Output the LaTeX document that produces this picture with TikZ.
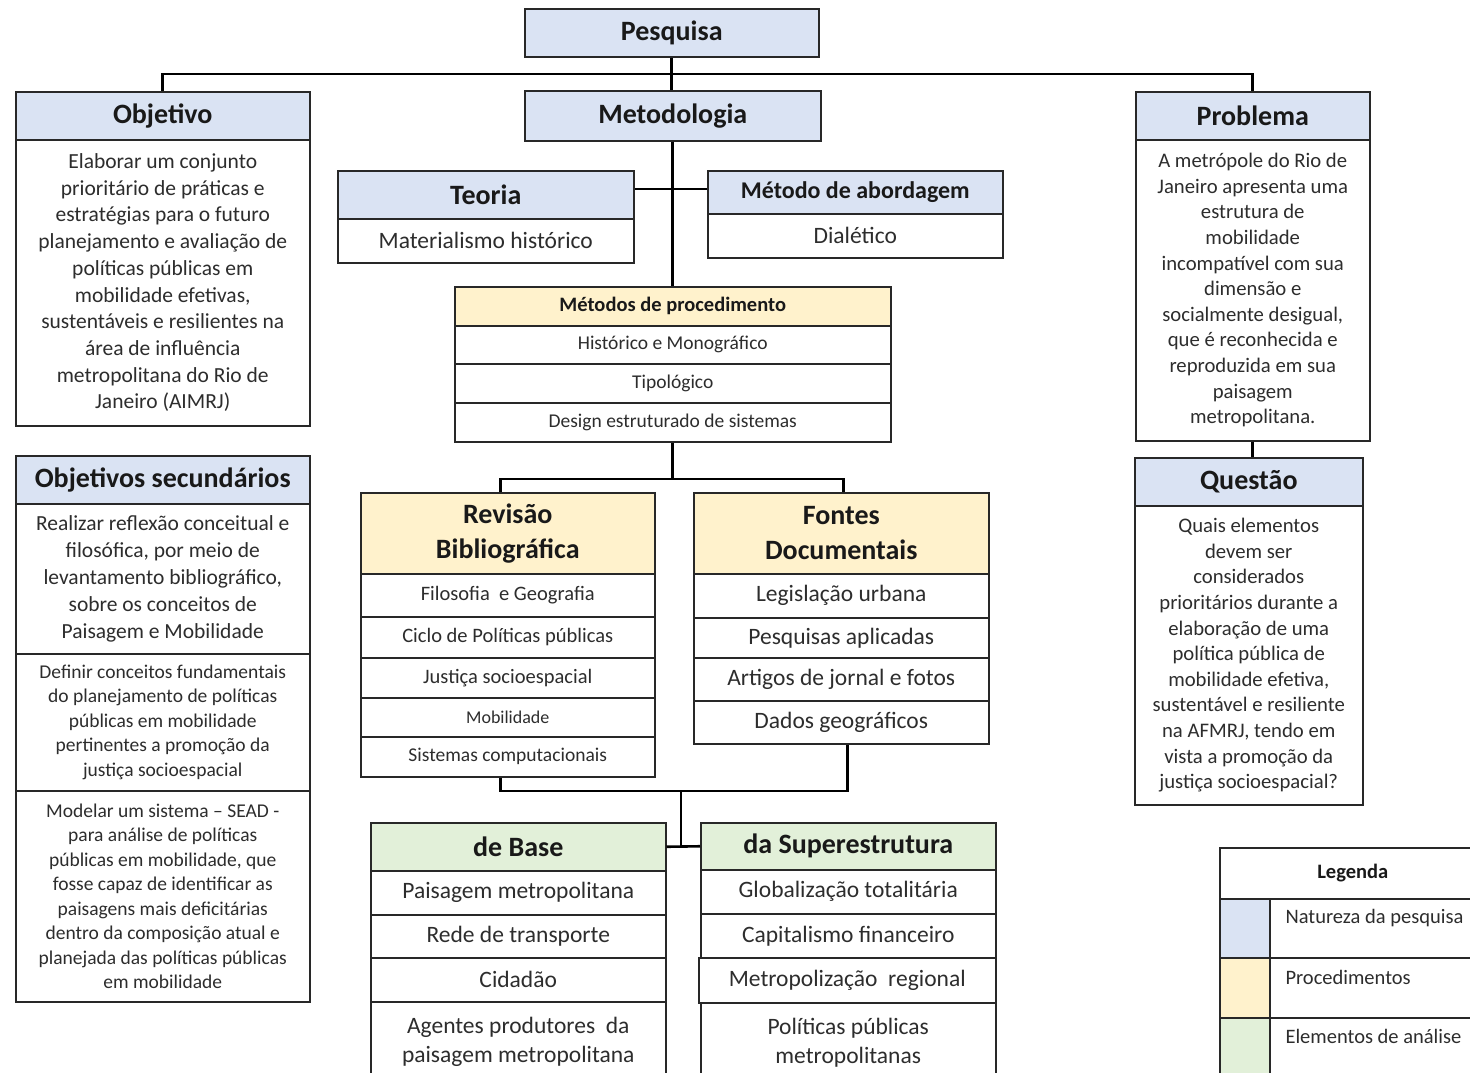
\documentclass[tikz,border=0pt]{standalone}
\usepackage{fontspec}
\setmainfont{Carlito}
\usetikzlibrary{calc}

\definecolor{blueF}{RGB}{218,227,243}
\definecolor{yellowF}{RGB}{255,242,204}
\definecolor{greenF}{RGB}{226,240,217}
\definecolor{edge}{RGB}{40,40,40}
\definecolor{ink}{RGB}{25,25,25}
\definecolor{body}{RGB}{45,45,45}

\tikzset{
  cell/.style={draw=edge, line width=1.5pt, anchor=north west, align=center,
               inner sep=1pt, text=body},
  wh/.style 2 args={minimum width=#1pt, minimum height=#2pt},
  natureza/.style={cell, fill=blueF, text=ink},
  proced/.style={cell, fill=yellowF, text=ink},
  analise/.style={cell, fill=greenF, text=ink},
  plain/.style={cell, fill=white},
  conn/.style={line width=2.6pt, draw=black},
  fTitle/.style={font=\fontsize{28}{35}\selectfont\bfseries},
  fMid/.style={font=\fontsize{24}{29}\selectfont\bfseries},
  fSmallB/.style={font=\fontsize{20.5}{25}\selectfont\bfseries},
  fBody/.style={font=\fontsize{21.5}{26.7}\selectfont},
  fSide/.style={font=\fontsize{20.7}{25.6}\selectfont},
  fSec/.style={font=\fontsize{19.5}{24.5}\selectfont},
  fItem/.style={font=\fontsize{23.5}{29}\selectfont},
  fRow/.style={font=\fontsize{19.5}{24}\selectfont},
  fRev/.style={font=\fontsize{20.5}{25}\selectfont},
  fLeg/.style={font=\fontsize{20.5}{24}\selectfont},
}

\begin{document}
\begin{tikzpicture}[x=1pt, y=-1pt]
\useasboundingbox (0,0) rectangle (1470,1072);
\fill[white] (0,0) rectangle (1470,1072);
\clip (0,0) rectangle (1470,1072);

% ---------- top level ----------
\node[natureza, fTitle, wh={294}{48}] (pesq) at (524,8) {Pesquisa};
\node[natureza, fTitle, wh={296}{50}] (met) at (524,90) {Metodologia};

% ---------- objective ----------
\node[natureza, fTitle, wh={294}{48}] (obj) at (15,91) {Objetivo};
\node[plain, fBody, wh={294}{286}] (objB) at (15,139)
  {Elaborar um conjunto\\prioritário de práticas e\\estratégias para o futuro\\planejamento e avaliação de\\políticas públicas em\\mobilidade efetivas,\\sustentáveis e resilientes na\\área de influência\\metropolitana do Rio de\\Janeiro (AIMRJ)};

% ---------- secondary objectives ----------
\node[natureza, fTitle, wh={294}{48}] (sec) at (15,455) {Objetivos secundários};
\node[plain, fBody, font=\fontsize{21.5}{27}\selectfont, wh={294}{150}] (sec1) at (15,503)
  {Realizar reflexão conceitual e\\filosófica, por meio de\\levantamento bibliográfico,\\sobre os conceitos de\\Paisagem e Mobilidade};
\node[plain, fSec, wh={294}{137}] (sec2) at (15,653)
  {Definir conceitos fundamentais\\do planejamento de políticas\\públicas em mobilidade\\pertinentes a promoção da\\justiça socioespacial};
\node[plain, fSec, wh={294}{211}] (sec3) at (15,790)
  {Modelar um sistema – SEAD -\\para análise de políticas\\públicas em mobilidade, que\\fosse capaz de identificar as\\paisagens mais deficitárias\\dentro da composição atual e\\planejada das políticas públicas\\em mobilidade};

% ---------- problem and question ----------
\node[natureza, fTitle, wh={234}{48}] (prob) at (1135,91) {Problema};
\node[plain, fSide, wh={234}{301}] (probB) at (1135,139)
  {A metrópole do Rio de\\Janeiro apresenta uma\\estrutura de\\mobilidade\\incompatível com sua\\dimensão e\\socialmente desigual,\\que é reconhecida e\\reproduzida em sua\\paisagem\\metropolitana.};
\node[natureza, fTitle, wh={228}{48}] (quest) at (1134,457) {Questão};
\node[plain, fSide, wh={228}{299}] (questB) at (1134,505)
  {Quais elementos\\devem ser\\considerados\\prioritários durante a\\elaboração de uma\\política pública de\\mobilidade efetiva,\\sustentável e resiliente\\na AFMRJ, tendo em\\vista a promoção da\\justiça socioespacial?};

% ---------- theory and approach ----------
\node[natureza, fTitle, wh={296}{48}] (teo) at (337,170) {Teoria};
\node[plain, fItem, wh={296}{44}] (teoB) at (337,218) {Materialismo histórico};
\node[natureza, fMid, wh={295}{43}] (mab) at (707,170) {Método de abordagem};
\node[plain, fItem, wh={295}{44}] (mabB) at (707,213) {Dialético};

% ---------- procedure methods ----------
\node[proced, fSmallB, wh={436}{39}] (mproc) at (454,286) {Métodos de procedimento};
\node[plain, fRow, wh={436}{38}] (mp1) at (454,325) {Histórico e Monográfico};
\node[plain, fRow, wh={436}{39}] (mp2) at (454,363) {Tipológico};
\node[plain, fRow, wh={436}{39}] (mp3) at (454,402) {Design estruturado de sistemas};

% ---------- literature review ----------
\node[proced, fTitle, wh={294}{81}] (rev) at (360,492) {Revisão\\Bibliográfica};
\node[plain, fRev, wh={294}{43}] (rev1) at (360,573) {Filosofia \ e Geografia};
\node[plain, fRev, wh={294}{41}] (rev2) at (360,616) {Ciclo de Políticas públicas};
\node[plain, fRev, wh={294}{40}] (rev3) at (360,657) {Justiça socioespacial};
\node[plain, fRow, font=\fontsize{18}{22}\selectfont, wh={294}{39}] (rev4) at (360,697) {Mobilidade};
\node[plain, fRow, wh={294}{40}] (rev5) at (360,736) {Sistemas computacionais};

% ---------- documentary sources ----------
\node[proced, fTitle, wh={295}{81}] (fon) at (693,492) {Fontes\\Documentais};
\node[plain, fItem, wh={295}{44}] (fon1) at (693,573) {Legislação urbana};
\node[plain, fItem, wh={295}{40}] (fon2) at (693,617) {Pesquisas aplicadas};
\node[plain, fItem, wh={295}{43}] (fon3) at (693,657) {Artigos de jornal e fotos};
\node[plain, fItem, wh={295}{43}] (fon4) at (693,700) {Dados geográficos};

% ---------- base ----------
\node[analise, fTitle, wh={295}{48}] (base) at (370,822) {de Base};
\node[plain, fItem, wh={295}{44}] (base1) at (370,870) {Paisagem metropolitana};
\node[plain, fItem, wh={295}{43}] (base2) at (370,914) {Rede de transporte};
\node[plain, fItem, wh={295}{44}] (base3) at (370,957) {Cidadão};
\node[plain, fItem, wh={295}{80}] (base4) at (370,1001) {Agentes produtores \ da\\paisagem metropolitana};

% ---------- superstructure ----------
\node[analise, fTitle, wh={295}{47}] (sup) at (700,822) {da Superestrutura};
\node[plain, fItem, wh={295}{44}] (sup1) at (700,869) {Globalização totalitária};
\node[plain, fItem, wh={295}{44}] (sup2) at (700,913) {Capitalismo financeiro};
\node[plain, fItem, wh={297}{45}] (sup3) at (698,957) {Metropolização \ regional};
\node[plain, fItem, wh={295}{80}] (sup4) at (700,1002) {Políticas públicas\\metropolitanas};

% ---------- legend ----------
\node[plain, fSmallB, text=ink, wh={266}{51}] (leg) at (1219,847) {Legenda};
\node[cell, fill=blueF, wh={50}{59}] (legS1) at (1219,898) {};
\node[cell, fill=yellowF, wh={50}{60}] (legS2) at (1219,957) {};
\node[cell, fill=greenF, wh={50}{80}] (legS3) at (1219,1017) {};
\node[cell, fill=white, wh={216}{59}] (legC1) at (1269,898) {};
\node[cell, fill=white, wh={216}{60}] (legC2) at (1269,957) {};
\node[cell, fill=white, wh={216}{80}] (legC3) at (1269,1017) {};
\node[fLeg, text=body, anchor=west] (legT1) at (1282,918) {Natureza da pesquisa};
\node[fLeg, text=body, anchor=west] (legT2) at (1282,977) {Procedimentos};
\node[fLeg, text=body, anchor=west] (legT3) at (1282,1036) {Elementos de análise};

% ---------- connectors ----------
\coordinate (topbar) at (671,74);
\draw[conn] (pesq.south) -- (pesq.south |- met.north);
\draw[conn] (obj.north) |- (topbar) -| (prob.north);
\draw[conn] (probB.south) -- (probB.south |- quest.north);

\coordinate (tm) at (672,189);
\draw[conn] (teo.east |- tm) -- (mab.west |- tm);
\draw[conn] (met.south) -- (met.south |- mproc.north);

\coordinate (s1) at (672,479);
\draw[conn] (mp3.south) -- (mp3.south |- s1);
\draw[conn] ([xshift=-7pt]rev.north) |- (s1) -| ([xshift=2pt]fon.north);

\coordinate (s2) at (681,791);
\draw[conn] ([xshift=-7pt]rev5.south) |- (s2) -| ([xshift=6pt]fon4.south);
\draw[conn] (s2) -- (s2 |- base.east);
\draw[conn] (base.east) -- (sup.west);
\end{tikzpicture}
\end{document}
